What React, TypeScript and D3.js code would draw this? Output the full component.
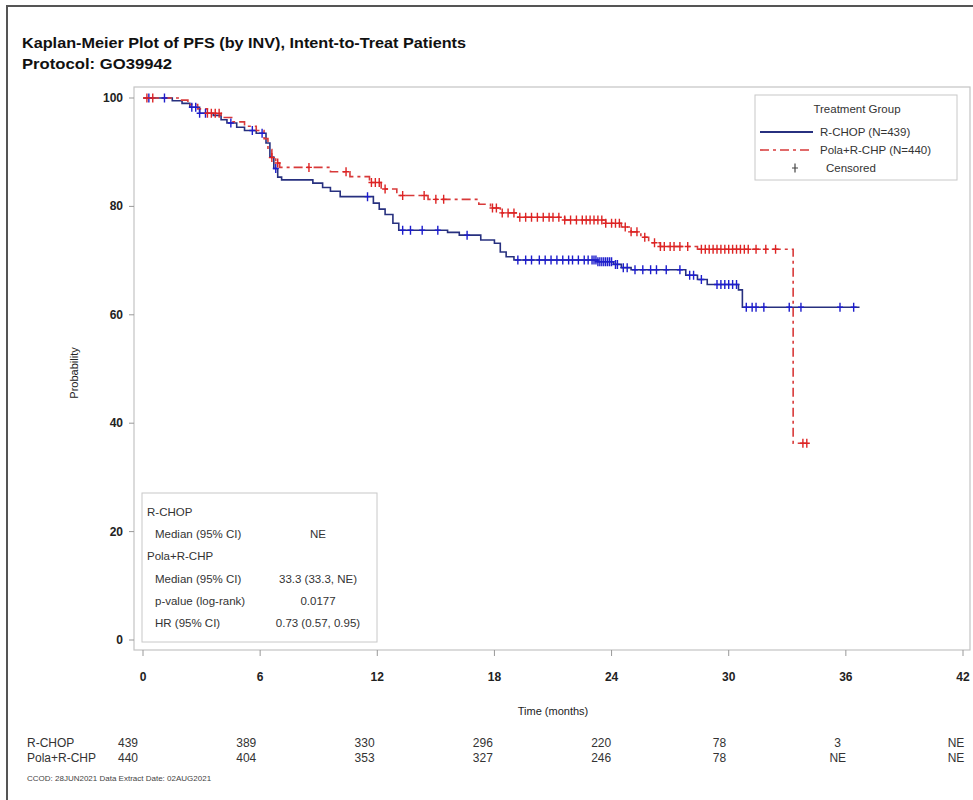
import React from "react";
import * as d3 from "d3";

// Kaplan-Meier step values: [months, probability %]
const rchopSteps: [number, number][] = [
  [0, 100], [1.5, 99.5], [2.0, 99.0], [2.4, 98.3], [2.9, 97.2], [3.6, 96.8],
  [4.0, 96.0], [4.3, 95.4], [4.8, 94.6], [5.2, 94.0], [5.8, 93.5], [6.3, 91.7],
  [6.5, 89.1], [6.7, 87.0], [6.9, 85.4], [7.1, 84.9], [8.7, 84.3], [9.2, 83.5],
  [9.6, 82.8], [10.1, 81.8], [11.8, 80.6], [12.1, 79.5], [12.4, 78.5], [12.8, 76.9],
  [13.1, 75.6], [15.6, 75.2], [16.2, 74.7], [17.3, 73.8], [18.0, 73.2], [18.3, 71.6],
  [18.6, 70.7], [19.0, 70.1], [23.3, 69.8], [24.1, 69.3], [24.5, 68.7], [25.0, 68.3],
  [27.8, 67.3], [28.4, 66.5], [28.9, 65.6], [30.5, 64.6], [30.7, 61.4],
];
const rchopEnd = 36.7;

const polaSteps: [number, number][] = [
  [0, 100], [1.8, 99.6], [2.3, 98.8], [2.8, 98.0], [3.3, 97.2], [4.0, 96.4],
  [4.6, 95.6], [5.2, 94.8], [5.8, 94.0], [6.2, 92.5], [6.4, 90.5], [6.6, 89.0],
  [6.8, 88.0], [7.0, 87.2], [9.6, 86.4], [10.6, 85.5], [11.6, 84.4], [12.2, 83.2],
  [13.0, 82.0], [14.6, 81.3], [17.2, 80.4], [17.8, 79.7], [18.3, 78.8], [19.2, 78.0],
  [21.6, 77.5], [23.7, 76.9], [24.5, 76.2], [25.0, 75.3], [25.5, 74.3], [25.9, 73.3],
  [26.5, 72.6], [28.4, 72.1], [33.3, 36.3],
];
const polaEnd = 34.0;

// censored times (months)
const rchopCensored = [
  0.3, 1.1, 2.5, 2.7, 2.9, 3.2, 4.5, 5.6, 6.1, 6.8, 11.5, 13.3, 13.7, 14.3, 15.1,
  16.6, 19.2, 19.6, 19.9, 20.3, 20.6, 20.9, 21.2, 21.5, 21.8, 22.0, 22.3, 22.6,
  22.8, 23.0, 23.1, 23.2, 23.3, 23.4, 23.5, 23.6, 23.7, 23.8, 23.9, 24.0, 24.2,
  24.3, 24.6, 24.8, 25.2, 25.6, 26.0, 26.3, 26.8, 27.5, 28.0, 28.2, 28.6, 29.4,
  29.6, 29.8, 30.0, 30.2, 30.4, 30.9, 31.2, 31.4, 31.8, 33.1, 33.7, 35.7, 36.4,
];
const polaCensored = [
  0.2, 0.5, 3.3, 3.5, 3.7, 3.9, 6.6, 6.9, 8.5, 10.4, 11.7, 11.9, 12.1, 12.4,
  13.3, 14.4, 15.0, 15.4, 17.9, 18.1, 18.4, 18.7, 19.0, 19.3, 19.6, 19.9, 20.2,
  20.5, 20.8, 21.0, 21.3, 21.6, 21.9, 22.2, 22.5, 22.7, 22.9, 23.1, 23.3, 23.5,
  23.7, 24.0, 24.2, 24.4, 24.7, 25.0, 25.3, 25.7, 26.2, 26.5, 26.7, 27.0, 27.2,
  27.5, 27.9, 28.6, 28.8, 29.0, 29.2, 29.4, 29.6, 29.8, 30.0, 30.2, 30.4, 30.6,
  30.8, 31.0, 31.4, 31.9, 32.4, 33.8, 34.0,
];

const xTicks = [0, 6, 12, 18, 24, 30, 36, 42];
const yTicks = [0, 20, 40, 60, 80, 100];

const riskTimes = [0, 6, 12, 18, 24, 30, 36, 42];
const rchopAtRisk = ["439", "389", "330", "296", "220", "78", "3", "NE"];
const polaAtRisk = ["440", "404", "353", "327", "246", "78", "NE", "NE"];

const statsRows = [
  { label: "R-CHOP", value: "", indent: false },
  { label: "Median (95% CI)", value: "NE", indent: true },
  { label: "Pola+R-CHP", value: "", indent: false },
  { label: "Median (95% CI)", value: "33.3 (33.3, NE)", indent: true },
  { label: "p-value (log-rank)", value: "0.0177", indent: true },
  { label: "HR (95% CI)", value: "0.73 (0.57, 0.95)", indent: true },
];

const FONT = "'Liberation Sans', Arial, sans-serif";
const BLUE_LINE = "#27307f";
const BLUE_MARK = "#1d1dcc";
const RED_LINE = "#d83a3a";
const RED_MARK = "#dd2424";

const frame = { left: 134, top: 87, right: 970, bottom: 650 };

function survAt(steps: [number, number][], t: number) {
  let v = steps[0][1];
  for (const s of steps) if (s[0] <= t) v = s[1];
  return v;
}

export default function App() {
  const x = d3.scaleLinear().domain([0, 42]).range([143, 963]);
  const y = d3.scaleLinear().domain([0, 100]).range([640, 98]);
  const riskX = d3.scaleLinear().domain([0, 42]).range([128, 956]);

  const line = d3
    .line<[number, number]>()
    .x((d) => x(d[0]))
    .y((d) => y(d[1]))
    .curve(d3.curveStepAfter);

  const rchopPath = line([...rchopSteps, [rchopEnd, rchopSteps[rchopSteps.length - 1][1]]]);
  const polaPath = line([...polaSteps, [polaEnd, polaSteps[polaSteps.length - 1][1]]]);

  const cross = (cx: number, cy: number) =>
    `M${cx - 3},${cy}H${cx + 3}M${cx},${cy - 4.5}V${cy + 4.5}`;

  const marks = (times: number[], steps: [number, number][]) =>
    times.map((t) => cross(x(t), y(survAt(steps, t)))).join("");

  return (
    <svg
      width={973}
      height={800}
      style={{ position: "absolute", left: 0, top: 0, background: "#fff" }}
      fontFamily={FONT}
    >
      <rect x={0} y={0} width={973} height={800} fill="#fff" />
      {/* outer border */}
      <path d="M7,800V6H973" fill="none" stroke="#555" strokeWidth={2} />

      <text x={22} y={48} fontSize={15} fontWeight="bold" fill="#111" textLength={444} lengthAdjust="spacingAndGlyphs">
        Kaplan-Meier Plot of PFS (by INV), Intent-to-Treat Patients
      </text>
      <text x={22} y={69} fontSize={15} fontWeight="bold" fill="#111" textLength={150} lengthAdjust="spacingAndGlyphs">
        Protocol: GO39942
      </text>

      {/* plot frame */}
      <rect
        x={frame.left}
        y={frame.top}
        width={frame.right - frame.left}
        height={frame.bottom - frame.top}
        fill="none"
        stroke="#c4c4c4"
        strokeWidth={1.2}
      />

      {/* y axis */}
      {yTicks.map((t) => (
        <g key={"y" + t}>
          <line x1={frame.left - 5} x2={frame.left} y1={y(t)} y2={y(t)} stroke="#999" />
          <text x={frame.left - 11} y={y(t) + 4} fontSize={12} fontWeight="bold" textAnchor="end" fill="#222">
            {t}
          </text>
        </g>
      ))}
      <text
        transform={`translate(78,${373}) rotate(-90)`}
        fontSize={11}
        textAnchor="middle"
        fill="#222"
      >
        Probability
      </text>

      {/* x axis */}
      {xTicks.map((t) => (
        <g key={"x" + t}>
          <line x1={x(t)} x2={x(t)} y1={frame.bottom} y2={frame.bottom + 6} stroke="#999" />
          <text x={x(t)} y={681} fontSize={12} fontWeight="bold" textAnchor="middle" fill="#222">
            {t}
          </text>
        </g>
      ))}
      <text x={553} y={715} fontSize={11} textAnchor="middle" fill="#222">
        Time (months)
      </text>

      {/* curves */}
      <path d={rchopPath ?? ""} fill="none" stroke={BLUE_LINE} strokeWidth={1.6} />
      <path
        d={polaPath ?? ""}
        fill="none"
        stroke={RED_LINE}
        strokeWidth={1.6}
        strokeDasharray="9,4,3,4"
      />
      <path d={marks(rchopCensored, rchopSteps)} stroke={BLUE_MARK} strokeWidth={1.4} fill="none" />
      <path d={marks(polaCensored, polaSteps)} stroke={RED_MARK} strokeWidth={1.4} fill="none" />

      {/* legend */}
      <rect x={755} y={95} width={202} height={85} fill="#fff" stroke="#c8c8c8" />
      <text x={857} y={113} fontSize={11.5} textAnchor="middle" fill="#333">
        Treatment Group
      </text>
      <line x1={760} x2={813} y1={132} y2={132} stroke={BLUE_LINE} strokeWidth={2} />
      <text x={820} y={136} fontSize={11.5} fill="#333">R-CHOP (N=439)</text>
      <line x1={760} x2={813} y1={150} y2={150} stroke={RED_LINE} strokeWidth={1.6} strokeDasharray="9,4,3,4" />
      <text x={820} y={154} fontSize={11.5} fill="#333">Pola+R-CHP (N=440)</text>
      <path d={cross(795, 168)} stroke="#444" strokeWidth={1.2} />
      <text x={826} y={172} fontSize={11.5} fill="#333">Censored</text>

      {/* statistics box */}
      <rect x={142} y={493} width={235} height={149} fill="#fff" stroke="#c8c8c8" />
      {statsRows.map((r, i) => (
        <g key={"s" + i}>
          <text x={r.indent ? 155 : 147} y={516 + i * 22.2} fontSize={11.5} fill="#333">
            {r.label}
          </text>
          {r.value && (
            <text x={318} y={516 + i * 22.2} fontSize={11.5} textAnchor="middle" fill="#333">
              {r.value}
            </text>
          )}
        </g>
      ))}

      {/* number at risk */}
      <text x={27} y={747} fontSize={12} fill="#333">R-CHOP</text>
      <text x={27} y={762} fontSize={12} fill="#333">Pola+R-CHP</text>
      {riskTimes.map((t, i) => (
        <g key={"r" + t}>
          <text x={riskX(t)} y={747} fontSize={12} textAnchor="middle" fill="#333">
            {rchopAtRisk[i]}
          </text>
          <text x={riskX(t)} y={762} fontSize={12} textAnchor="middle" fill="#333">
            {polaAtRisk[i]}
          </text>
        </g>
      ))}
      <text x={27} y={781} fontSize={8} fill="#444">
        CCOD: 28JUN2021 Data Extract Date: 02AUG2021
      </text>
    </svg>
  );
}
